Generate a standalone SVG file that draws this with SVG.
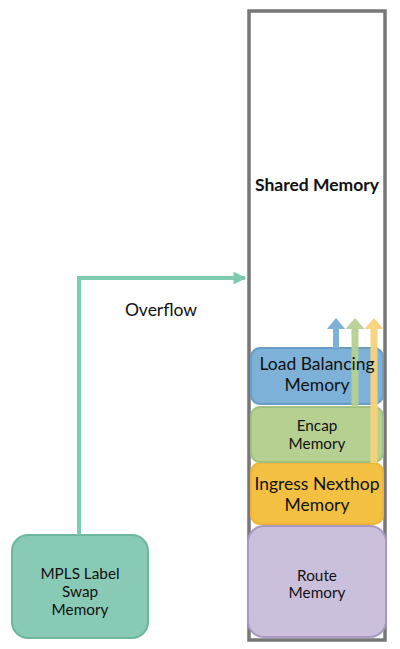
<svg xmlns="http://www.w3.org/2000/svg" width="400" height="649" viewBox="0 0 400 649">
<style>
text{font-family:Lato,"Liberation Sans",sans-serif;fill:#111;text-anchor:middle}
.b{font-size:17.5px}
.s{font-size:15.3px}
</style>
<defs>
<marker id="ah" viewBox="0 0 10 10" refX="9" refY="5" markerWidth="3.2" markerHeight="3.2" orient="auto"><path d="M0,0L10,5L0,10z" fill="#7ecbb0"/></marker>
</defs>
<rect width="400" height="649" fill="#fff"/>
<g id="shared">
<rect x="249" y="11" width="136" height="629" fill="#fff" stroke="#777" stroke-width="3.5"/>
<text x="317" y="191" class="b" font-weight="bold">Shared Memory</text>
</g>
<g id="route">
<rect x="248" y="526" width="138" height="111" rx="16" fill="#cbc0dc" stroke="#a999c2" stroke-width="2"/>
<text x="317" y="581" class="s">Route</text>
<text x="317" y="598" class="s">Memory</text>
</g>
<g id="ingress">
<rect x="251" y="463" width="132" height="61" rx="9" fill="#f4c042" stroke="#eeb43a" stroke-width="2"/>
<text x="317" y="490" class="b">Ingress Nexthop</text>
<text x="317" y="511" class="b">Memory</text>
</g>
<g id="encap">
<rect x="251" y="407" width="132" height="55" rx="9" fill="#b6d092" stroke="#a0c07f" stroke-width="2"/>
</g>
<g id="lb">
<rect x="251" y="348" width="132" height="56" rx="9" fill="#7db1d8" stroke="#6a9cc4" stroke-width="2"/>
</g>
<g id="mpls">
<rect x="12" y="535" width="136" height="103" rx="16" fill="#88cab5" stroke="#6bb89d" stroke-width="2"/>
<text x="80" y="579" class="s">MPLS Label</text>
<text x="80" y="597" class="s">Swap</text>
<text x="80" y="615" class="s">Memory</text>
</g>
<g id="connectors">
<path d="M79,535V278H245" fill="none" stroke="#7ecbb0" stroke-width="4" marker-end="url(#ah)"/>
<path d="M333,348V329h-6l9,-11l9,11h-6v19z" fill="#7db1d8"/>
<path d="M351.5,407V329h-6l9.5,-11l9.5,11h-6v78z" fill="#b6d092" opacity="0.95"/>
<path d="M370.5,463V329h-6l9.5,-11l9.5,11h-6v134z" fill="#f8d27a" opacity="0.95"/>
</g>
<g id="encap-label">
<text x="317" y="431" class="s">Encap</text>
<text x="317" y="449" class="s">Memory</text>
</g>
<g id="lb-label">
<text x="317" y="370" class="b">Load Balancing</text>
<text x="317" y="391" class="b">Memory</text>
</g>
<text x="161" y="316" class="b">Overflow</text>
</svg>
